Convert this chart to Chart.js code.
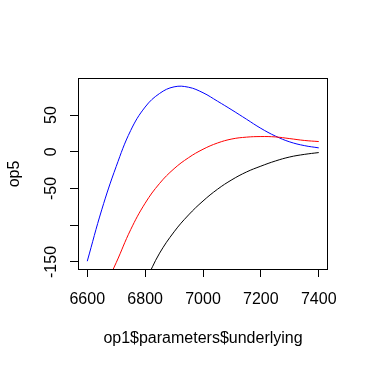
<!DOCTYPE html>
<html>
<head>
<meta charset="utf-8">
<script src="https://cdn.jsdelivr.net/npm/chart.js@4/dist/chart.umd.min.js"></script>
<style>
  body { margin: 0; background: #fff; }
</style>
</head>
<body>
<canvas id="plot" width="368" height="367"></canvas>
<script>
// values
const underlying = [6600, 6650, 6700, 6750, 6800, 6850, 6900, 6950, 7000,
    7050, 7100, 7150, 7200, 7250, 7300, 7350, 7400];
const blueOp5 = [-149, -79, -20, 29, 61, 79.5, 88.5, 88, 80.5,
    69, 57, 44.5, 32, 21.5, 13.5, 8.5, 5.4];
const redOp5 = [-240, -193, -151, -106, -70, -43, -23, -8, 3.5,
    12, 17.5, 20, 20.8, 20.3, 18, 15.5, 14];
const blackOp5 = [-330, -280, -235, -200, -175, -138, -109, -86, -67,
    -51, -38, -27.5, -19.5, -12.5, -7, -3.5, -1];
const xTicks = [6600, 6800, 7000, 7200, 7400];
const yTicks = [-150, -100, -50, 0, 50];
const yLabels = ["-150", "", "-50", "0", "50"];

const font = { family: "'Liberation Sans', Arial, sans-serif", size: 16, lineHeight: 1.2 };

function points(ys) {
    return underlying.map((x, i) => ({ x: x, y: ys[i] }));
}

function curve(ys, colour) {
    return {
        data: points(ys),
        borderColor: colour,
        borderWidth: 1,
        pointRadius: 0,
        fill: false,
        tension: 0.4,
    };
}

// R style box around the plot region
const boxPlugin = {
    id: "box",
    afterDraw(chart) {
        const { ctx, chartArea: a } = chart;
        ctx.save();
        ctx.strokeStyle = "#000";
        ctx.lineWidth = 1;
        ctx.strokeRect(a.left + 0.5, a.top - 0.5, a.right - a.left - 1, a.bottom - a.top + 1);
        ctx.restore();
    }
};

new Chart("plot", {
    type: "line",
    data: {
        datasets: [
            curve(blackOp5, "#000000"),
            curve(redOp5, "#ff0000"),
            curve(blueOp5, "#0000ff"),
        ],
    },
    plugins: [boxPlugin],
    options: {
        responsive: false,
        animation: false,
        layout: { padding: { top: 79, right: 40, left: 0, bottom: 0 } },
        plugins: {
            legend: { display: false },
            tooltip: { enabled: false },
        },
        scales: {
            x: {
                type: "linear",
                min: 6568,
                max: 7432,
                afterFit(scale) { scale.height = 98; },
                afterBuildTicks(scale) { scale.ticks = xTicks.map(v => ({ value: v })); },
                grid: { drawOnChartArea: false, drawTicks: true, tickLength: 8, color: "#000" },
                border: { display: false },
                ticks: {
                    color: "#000",
                    font: font,
                    padding: 13,
                    maxRotation: 0,
                    autoSkip: false,
                    callback: v => String(v),
                },
                title: {
                    display: true,
                    text: "op1$parameters$underlying",
                    color: "#000",
                    font: font,
                    padding: { top: 0, bottom: 19 },
                },
            },
            y: {
                type: "linear",
                min: -159.6,
                max: 99.2,
                afterFit(scale) { scale.width = 78; },
                afterBuildTicks(scale) { scale.ticks = yTicks.map(v => ({ value: v })); },
                grid: { drawOnChartArea: false, drawTicks: true, tickLength: 8, color: "#000" },
                border: { display: false },
                ticks: {
                    color: "#000",
                    font: font,
                    padding: 2,
                    minRotation: 90,
                    maxRotation: 90,
                    crossAlign: "center",
                    autoSkip: false,
                    callback: v => yLabels[yTicks.indexOf(v)],
                },
                title: {
                    display: true,
                    text: "op5",
                    color: "#000",
                    font: font,
                    padding: { top: 5, bottom: 0 },
                },
            },
        },
    },
});
</script>
</body>
</html>
